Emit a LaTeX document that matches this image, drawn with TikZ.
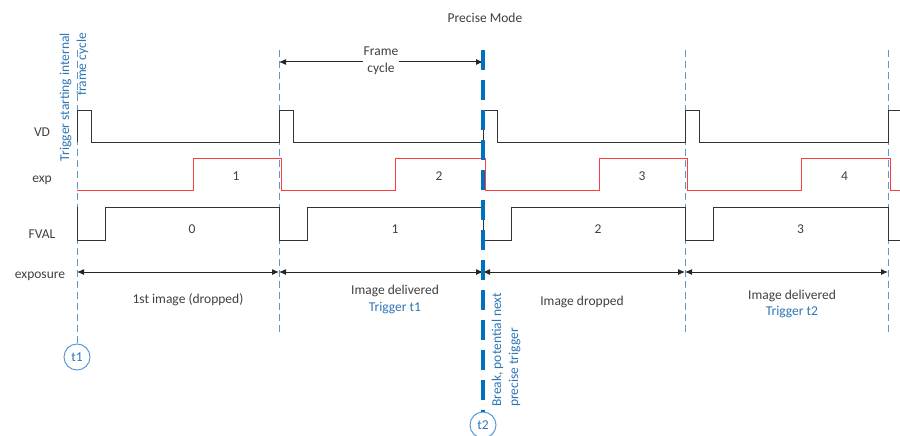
\documentclass[tikz,border=0pt]{standalone}
\usepackage{fontspec}
\setmainfont{Carlito}
\usetikzlibrary{arrows.meta}
\definecolor{txtgray}{HTML}{404040}
\definecolor{trigblue}{HTML}{2E75B6}
\definecolor{lineblue}{HTML}{5B9BD5}
\definecolor{breakblue}{HTML}{0070C0}
\definecolor{sigred}{HTML}{FF3B3B}
\tikzset{
  etiqueta/.style={text=txtgray, font=\fontsize{13.5}{17}\selectfont},
  sig/.style={draw=black!80, line width=1pt},
  expsig/.style={draw=sigred, line width=1pt},
  marca/.style={draw=lineblue, dash pattern=on 7pt off 4pt, line width=1pt},
  pausa/.style={draw=breakblue, dash pattern=on 20pt off 10pt, line width=3.5pt},
  cota/.style={draw=black!85, line width=1pt, {Latex[length=7pt,width=6pt]}-{Latex[length=7pt,width=6pt]}},
  disparo/.style={circle, draw=lineblue, line width=1pt, minimum size=26pt, inner sep=0pt, text=trigblue, font=\fontsize{13.5}{17}\selectfont}
}
\begin{document}
\begin{tikzpicture}[x=1pt, y=-1pt]
    \useasboundingbox (0,0) rectangle (900,436);

    % Título y nombres de las señales
    \node[etiqueta] (titulo) at (485,18) {Precise Mode};
    \node[etiqueta] (vd) at (42,132) {VD};
    \node[etiqueta] (exp) at (42,180) {exp};
    \node[etiqueta] (fval) at (42,234) {FVAL};
    \node[etiqueta] (exposure) at (40,276) {exposure};

    % Marcas de tiempo
    \foreach \t [count=\i from 0] in {77,279,483,685,888} {
        \coordinate (arriba\i) at (\t,50);
        \coordinate (abajo\i) at (\t,335);
        \coordinate (e\i) at (\t,272);
    }
    \node[disparo] (t1) at (77,357) {t1};
    \node[disparo] (t2) at (483,425) {t2};
    \draw[marca] (arriba0) -- (t1);
    \foreach \i in {1,3,4} {
        \draw[marca] (arriba\i) -- (abajo\i);
    }

    % Señales VD, exp y FVAL
    \draw[sig] (77,142) \foreach \t in {77,279,483,685} { -- (\t,142) -- (\t,110) -- (\t+14,110) -- (\t+14,142) } -- (888,142) -- (888,110) -- (900,110);
    \draw[expsig] (77,190) \foreach \t/\n in {77/279,279/483,483/685,685/888} { -- (\t+116,190) -- (\t+116,158) -- (\n+2,158) -- (\n+2,190) } -- (900,190);
    \draw[sig] (77,207) \foreach \t/\n in {77/279,279/483,483/685,685/888} { -- (\t,240) -- (\t+28,240) -- (\t+28,207) -- (\n,207) } -- (888,240) -- (900,240);
    \foreach \t/\n/\k in {77/279/1,279/483/2,483/685/3,685/888/4} {
        \node[etiqueta] (exp\k) at ({(\t+116+\n)/2},176) {\k};
    }
    \foreach \t/\n/\k in {77/279/0,279/483/1,483/685/2,685/888/3} {
        \node[etiqueta] (fval\k) at ({(\t+28+\n)/2},229) {\k};
    }

    % Exposición
    \foreach \i/\j in {0/1,1/2,2/3,3/4} {
        \draw[cota] (e\i) -- (e\j);
    }
    \node[etiqueta] (img0) at (188,300) {1st image (dropped)};
    \node[etiqueta] (img1) at (395,291) {Image delivered};
    \node[etiqueta, text=trigblue] (trig1) at (395,308) {Trigger t1};
    \node[etiqueta] (img2) at (582,302) {Image dropped};
    \node[etiqueta] (img3) at (792,296) {Image delivered};
    \node[etiqueta, text=trigblue] (trig2) at (792,312) {Trigger t2};

    % Ciclo de trama
    \coordinate (fc0) at (279,62);
    \coordinate (fc1) at (483,62);
    \draw[cota] (fc0) -- (fc1);
    \node[etiqueta, fill=white, align=center, inner sep=1pt] (ciclo) at (381,61) {Frame\\cycle};

    % Textos girados y ruptura
    \node[etiqueta, text=trigblue, rotate=90, anchor=east, align=right, inner sep=1pt] (inicio) at (74,32) {Trigger starting internal\\frame cycle};
    \draw[pausa] (arriba2) -- (t2);
    \node[etiqueta, text=trigblue, rotate=90, anchor=west, align=left, inner sep=1pt] (ruptura) at (506,408) {Break, potential next\\precise trigger};
\end{tikzpicture}
\end{document}
